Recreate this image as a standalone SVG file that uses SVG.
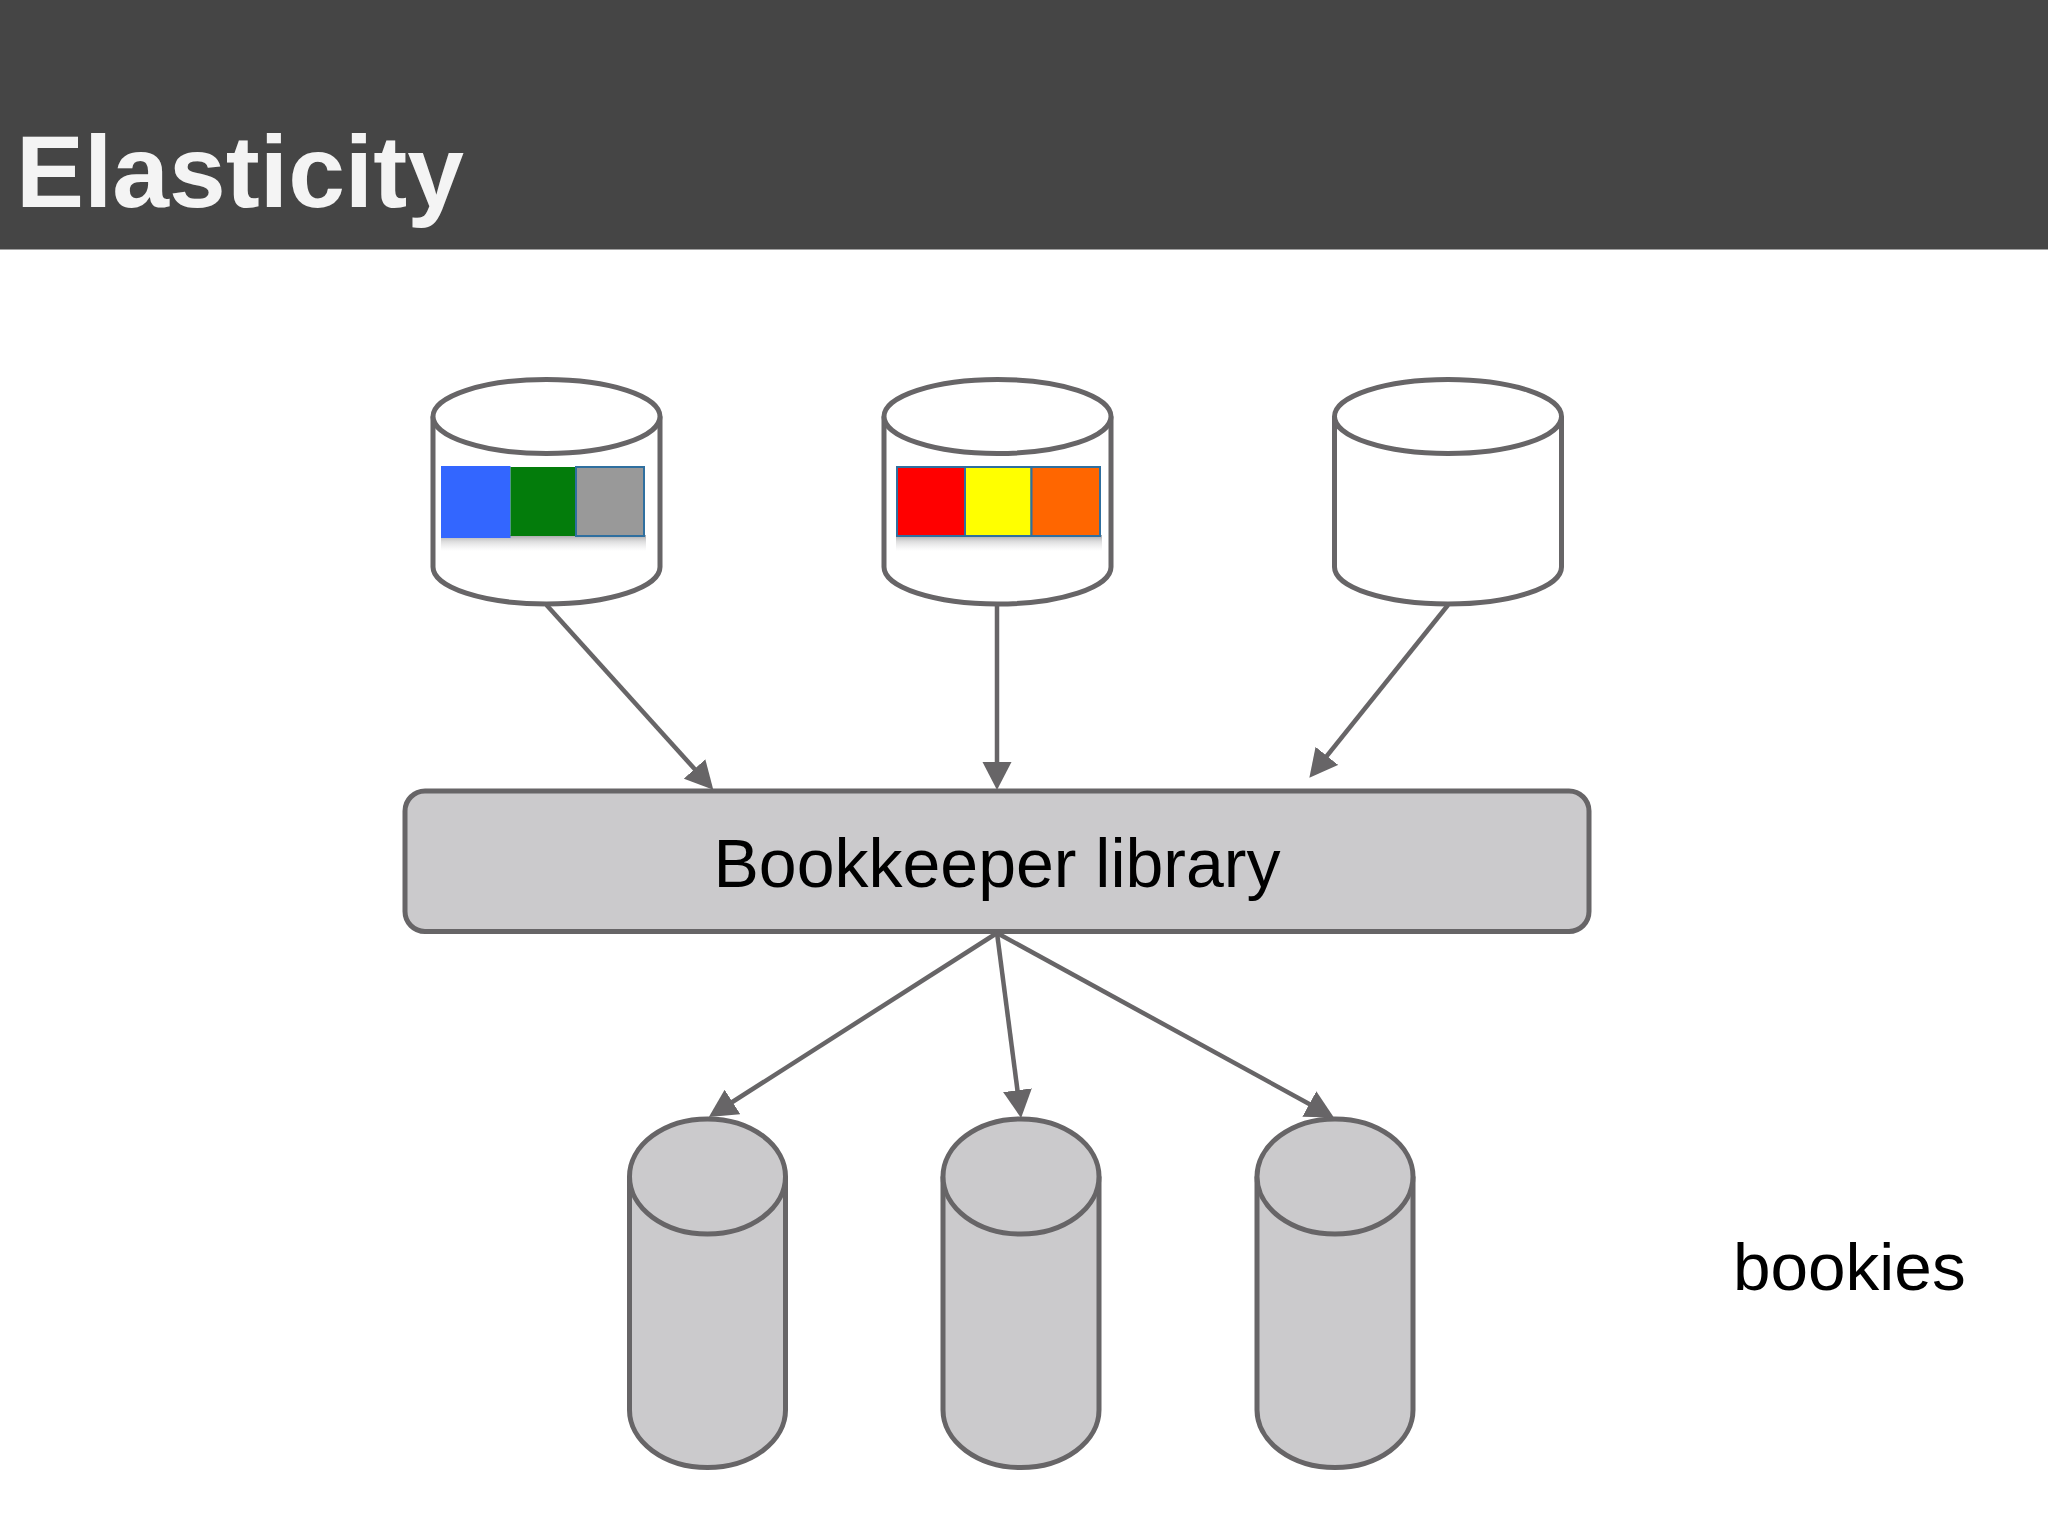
<svg xmlns="http://www.w3.org/2000/svg" width="2048" height="1536" viewBox="0 0 2048 1536">
<defs>
<marker id="arrow" markerUnits="userSpaceOnUse" markerWidth="30" markerHeight="30" refX="15" refY="15" orient="auto" viewBox="0 0 30 30"><path d="M0 0.500 L28 15 L0 29.500 Z" fill="#676567"/></marker>
<linearGradient id="shade" x1="0" y1="0" x2="0" y2="1"><stop offset="0" stop-color="#7c7c7e" stop-opacity="0.7"/><stop offset="0.4" stop-color="#a8a8aa" stop-opacity="0.4"/><stop offset="1" stop-color="#c8c8ca" stop-opacity="0"/></linearGradient>
</defs>
<style>
.s{stroke:#676567;stroke-width:5}
.w{fill:#ffffff}
.g{fill:#cbcacc}
.c{stroke:#676567;stroke-width:4.500;fill:none;marker-end:url(#arrow)}
.b{stroke:#2f6f9f;stroke-width:2}
.t{font-family:"Liberation Sans",Arial,sans-serif;fill:#000000}
</style>
<rect width="2048" height="1536" fill="#ffffff"/>
<g id="header">
<rect width="2048" height="249.500" fill="#454545"/>
<text x="16" y="207" class="t" style="font-weight:700;font-size:102px;fill:#f4f4f4">Elasticity</text>
</g>
<g id="client1">
<path class="s w" d="M433 416.500 V567 A113.500 37 0 0 0 660 567 V416.500"/>
<ellipse class="s w" cx="546.500" cy="416.500" rx="113.500" ry="37"/>
<rect x="441" y="535" width="205" height="16" fill="url(#shade)"/>
<rect x="441" y="466" width="69.500" height="72" fill="#3366ff"/>
<rect x="510.500" y="467" width="65.500" height="69" fill="#037c0b"/>
<rect class="b" x="576" y="467" width="68" height="69" fill="#999999"/>
</g>
<g id="client2">
<path class="s w" d="M884 416.500 V567 A113.500 37 0 0 0 1111 567 V416.500"/>
<ellipse class="s w" cx="997.500" cy="416.500" rx="113.500" ry="37"/>
<rect x="896" y="535" width="206" height="16" fill="url(#shade)"/>
<rect class="b" x="897" y="467" width="68" height="69" fill="#ff0000"/>
<rect class="b" x="965" y="467" width="66.500" height="69" fill="#ffff00"/>
<rect class="b" x="1031.500" y="467" width="68.500" height="69" fill="#ff6600"/>
</g>
<g id="client3">
<path class="s w" d="M1334.500 416.500 V567 A113.500 37 0 0 0 1561.500 567 V416.500"/>
<ellipse class="s w" cx="1448" cy="416.500" rx="113.500" ry="37"/>
</g>
<g id="library">
<rect class="s g" x="405" y="791" width="1184" height="140.500" rx="20" ry="20"/>
<text x="997" y="887" text-anchor="middle" class="t" style="font-size:68px">Bookkeeper library</text>
</g>
<g id="bookie1">
<path class="s g" d="M629.500 1176.500 V1410 A78 57.500 0 0 0 785.500 1410 V1176.500"/>
<ellipse class="s g" cx="707.500" cy="1176.500" rx="78" ry="57.500"/>
</g>
<g id="bookie2">
<path class="s g" d="M943 1176.500 V1410 A78 57.500 0 0 0 1099 1410 V1176.500"/>
<ellipse class="s g" cx="1021" cy="1176.500" rx="78" ry="57.500"/>
</g>
<g id="bookie3">
<path class="s g" d="M1257 1176.500 V1410 A78 57.500 0 0 0 1413 1410 V1176.500"/>
<ellipse class="s g" cx="1335" cy="1176.500" rx="78" ry="57.500"/>
</g>
<g id="connectors">
<line class="c" x1="546.500" y1="605" x2="704.600" y2="780.100"/>
<line class="c" x1="997" y1="605" x2="997" y2="777"/>
<line class="c" x1="1448" y1="605" x2="1317.500" y2="767.600"/>
<line class="c" x1="997" y1="933" x2="719.800" y2="1110"/>
<line class="c" x1="997" y1="933" x2="1019.400" y2="1105.100"/>
<line class="c" x1="997" y1="933" x2="1322.500" y2="1111.200"/>
</g>
<g id="label-bookies">
<text x="1733" y="1290" class="t" style="font-size:67.500px">bookies</text>
</g>
</svg>
